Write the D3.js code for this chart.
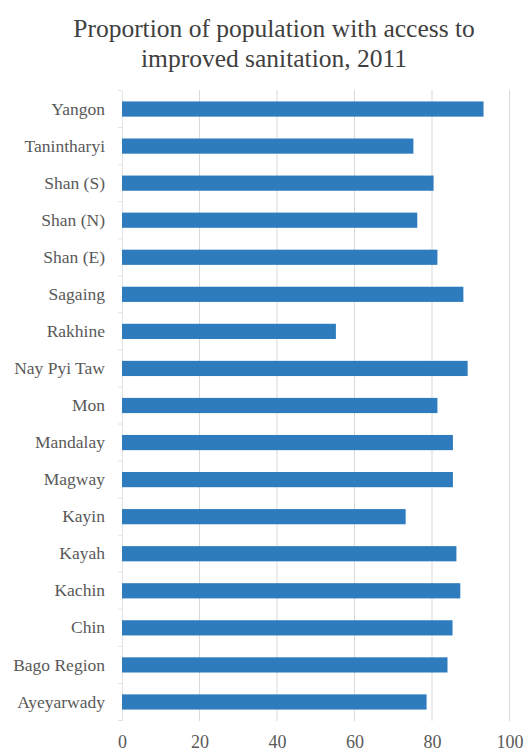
<!DOCTYPE html>
<html><head><meta charset="utf-8">
<script src="https://cdn.jsdelivr.net/npm/d3@7"></script>
<style>body{margin:0;background:#fff;} svg{display:block;}</style>
</head><body><svg id="c" width="526" height="754"></svg>
<script>
const categories = ["Yangon","Tanintharyi","Shan (S)","Shan (N)","Shan (E)","Sagaing","Rakhine","Nay Pyi Taw","Mon","Mandalay","Magway","Kayin","Kayah","Kachin","Chin","Bago Region","Ayeyarwady"];
const values = [93.3,75.2,80.4,76.2,81.4,88.1,55.2,89.2,81.4,85.4,85.4,73.2,86.3,87.3,85.3,84.0,78.6];
const tickValues = [0,20,40,60,80,100];
const titleLines = ["Proportion of population with access to","improved sanitation, 2011"];

const svg = d3.select("#c");
const font = "Liberation Serif, Times New Roman, serif";
const x = d3.scaleLinear().domain([0,100]).range([122,509.5]);
const y = d3.scaleBand().domain(categories).range([90.5,720.5]).paddingInner(0.59).paddingOuter(0.295);

// vertical gridlines
svg.append("g").selectAll("line").data(tickValues.slice(1)).join("line")
  .attr("x1",d=>x(d)).attr("x2",d=>x(d)).attr("y1",90).attr("y2",721)
  .attr("stroke","#d9d9d9").attr("stroke-width",1);

// left axis with labels
const yAxis = svg.append("g").attr("transform","translate(122,0)")
  .call(d3.axisLeft(y).tickSize(0).tickPadding(17));
yAxis.select(".domain").attr("stroke","#e3e3e3");
yAxis.selectAll("text").style("font-family",font).style("font-size","17.5px").attr("fill","#595959");

// faint category separator ticks
const bounds = categories.map(c => y(c) - y.step()*y.paddingInner()/2).concat([720.5]);
svg.append("g").selectAll("line").data(bounds).join("line")
  .attr("x1",118).attr("x2",122).attr("y1",d=>d).attr("y2",d=>d)
  .attr("stroke","#e3e3e3");

// bars
svg.append("g").selectAll("rect").data(categories).join("rect")
  .attr("x",x(0)).attr("y",d=>y(d)).attr("height",y.bandwidth())
  .attr("width",(d,i)=>x(values[i])-x(0)).attr("fill","#2E7CBD");

// bottom axis
const xAxis = svg.append("g").attr("transform","translate(0,721)")
  .call(d3.axisBottom(x).tickValues(tickValues).tickSize(0).tickPadding(14));
xAxis.select(".domain").remove();
xAxis.selectAll("text").style("font-family",font).style("font-size","18px").attr("fill","#595959");

// title
svg.append("g").selectAll("text").data(titleLines).join("text")
  .attr("x",274).attr("y",(d,i)=>37+i*30).attr("text-anchor","middle")
  .style("font-family",font).style("font-size","25.5px").attr("fill","#404040").text(d=>d);
</script></body></html>
